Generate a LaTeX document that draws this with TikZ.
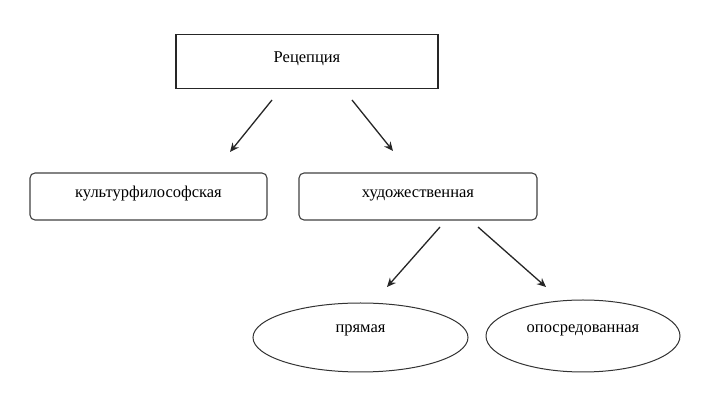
\documentclass[tikz,border=0pt]{standalone}
\usepackage{fontspec}
\setmainfont{Liberation Serif}
\usetikzlibrary{shapes.geometric,arrows.meta}
\begin{document}
\begin{tikzpicture}[x=1pt,y=1pt,
  lbl/.style={font=\fontsize{16.5}{19}\selectfont, text=black, text height=8pt, text depth=5pt},
  topbox/.style={lbl, draw=black!85, line width=1.4pt, minimum width=262pt, minimum height=54pt, inner sep=0pt},
  rbox/.style={lbl, draw=black!75, line width=1.1pt, rounded corners=5pt, minimum width=237pt, minimum height=47pt, inner sep=0pt},
  ell/.style={lbl, draw=black!80, line width=1.0pt, ellipse, inner sep=0pt},
  arr/.style={draw=black!85, line width=1.3pt, -{Stealth[length=9pt,width=8pt]}}
]
\useasboundingbox (0,0) rectangle (704,409);
\node[topbox] (rec) at (307,347.5) {Рецепция};
\node[rbox] (kult) at (148.5,212.5) {культурфилософская};
\node[rbox, minimum width=238pt] (hud) at (418,212.5) {художественная};
\node[ell, minimum width=215pt, minimum height=69pt] (pr) at (360.5,71.5) {\raisebox{6pt}{прямая}};
\node[ell, minimum width=194pt, minimum height=72pt] (op) at (583,73) {\raisebox{5pt}{опосредованная}};
\coordinate (a1s) at (272,309); \coordinate (a1e) at (230,257);
\coordinate (a2s) at (352,309); \coordinate (a2e) at (393,258);
\coordinate (a3s) at (440,182); \coordinate (a3e) at (387,122);
\coordinate (a4s) at (478,182); \coordinate (a4e) at (546,122);
\draw[arr] (a1s) -- (a1e);
\draw[arr] (a2s) -- (a2e);
\draw[arr] (a3s) -- (a3e);
\draw[arr] (a4s) -- (a4e);
\end{tikzpicture}
\end{document}
